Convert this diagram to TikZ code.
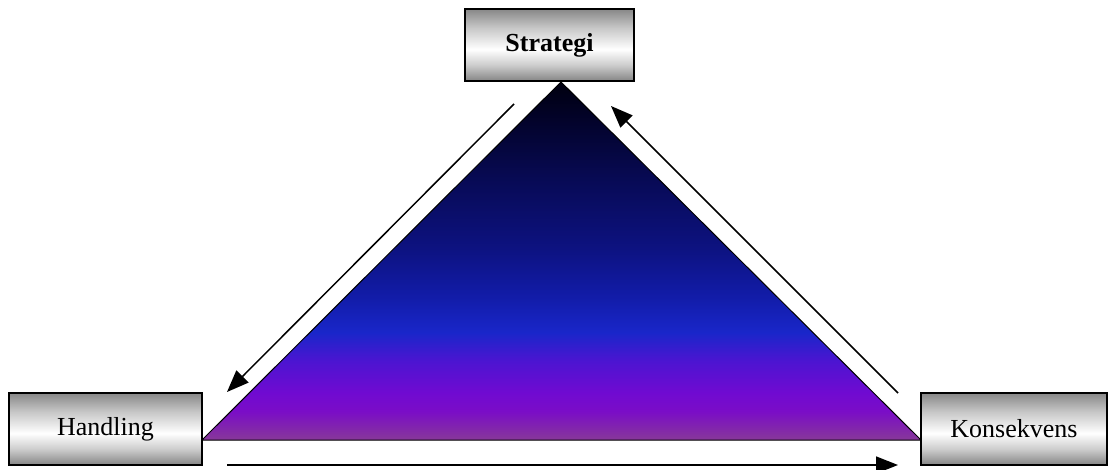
\documentclass[tikz,border=0pt]{standalone}
\usepackage{fontspec}
\setmainfont{Liberation Serif}
\usetikzlibrary{arrows.meta}
\pgfdeclareverticalshading{trishade}{100bp}{%
  rgb(0bp)=(0.53,0.22,0.60);
  rgb(25bp)=(0.53,0.22,0.60);
  rgb(29bp)=(0.48,0.05,0.78);
  rgb(31.6bp)=(0.44,0.04,0.82);
  rgb(36bp)=(0.30,0.08,0.82);
  rgb(40bp)=(0.10,0.15,0.79);
  rgb(45bp)=(0.07,0.11,0.66);
  rgb(52bp)=(0.05,0.07,0.50);
  rgb(61bp)=(0.03,0.04,0.34);
  rgb(70bp)=(0.01,0.01,0.16);
  rgb(75bp)=(0.0,0.0,0.06);
  rgb(100bp)=(0.0,0.0,0.06)}
\pgfdeclareverticalshading{boxshade}{100bp}{%
  rgb(0bp)=(0.52,0.52,0.52);
  rgb(25bp)=(0.52,0.52,0.52);
  rgb(36bp)=(0.80,0.80,0.80);
  rgb(47bp)=(1,1,1);
  rgb(62bp)=(0.78,0.78,0.78);
  rgb(75bp)=(0.53,0.53,0.53);
  rgb(100bp)=(0.53,0.53,0.53)}
\tikzset{
  boxnode/.style={draw=black, line width=2pt, shade, shading=boxshade,
    minimum height=72pt, inner sep=0pt, font=\fontsize{26}{30}\selectfont},
  flowarrow/.style={line width=1.5pt, -{Triangle[length=22pt,width=17pt]}},
}
\begin{document}
\begin{tikzpicture}[x=1pt,y=-1pt]
\useasboundingbox (0,0) rectangle (1109,470);
% triangle
\coordinate (apex) at (561,82);
\coordinate (bl) at (202,440);
\coordinate (br) at (921,440);
\shade[shading=trishade, draw=black, line width=1pt] (apex) -- (br) -- (bl) -- cycle;
% boxes
\node[boxnode, minimum width=169pt] (strategi) at (549.5,45) {\bfseries Strategi};
\node[boxnode, minimum width=193pt] (handling) at (105.5,429) {Handling};
\node[boxnode, minimum width=186pt] (konsekvens) at (1014,429) {Konsekvens};
% arrows
\coordinate (a1s) at (514,104);
\coordinate (a1e) at (227,392);
\coordinate (a2s) at (898,393);
\coordinate (a2e) at (611,106);
\coordinate (a3s) at (227,465);
\coordinate (a3e) at (898,465);
\draw[flowarrow] (a1s) -- (a1e);
\draw[flowarrow] (a2s) -- (a2e);
\draw[flowarrow] (a3s) -- (a3e);
\end{tikzpicture}
\end{document}
